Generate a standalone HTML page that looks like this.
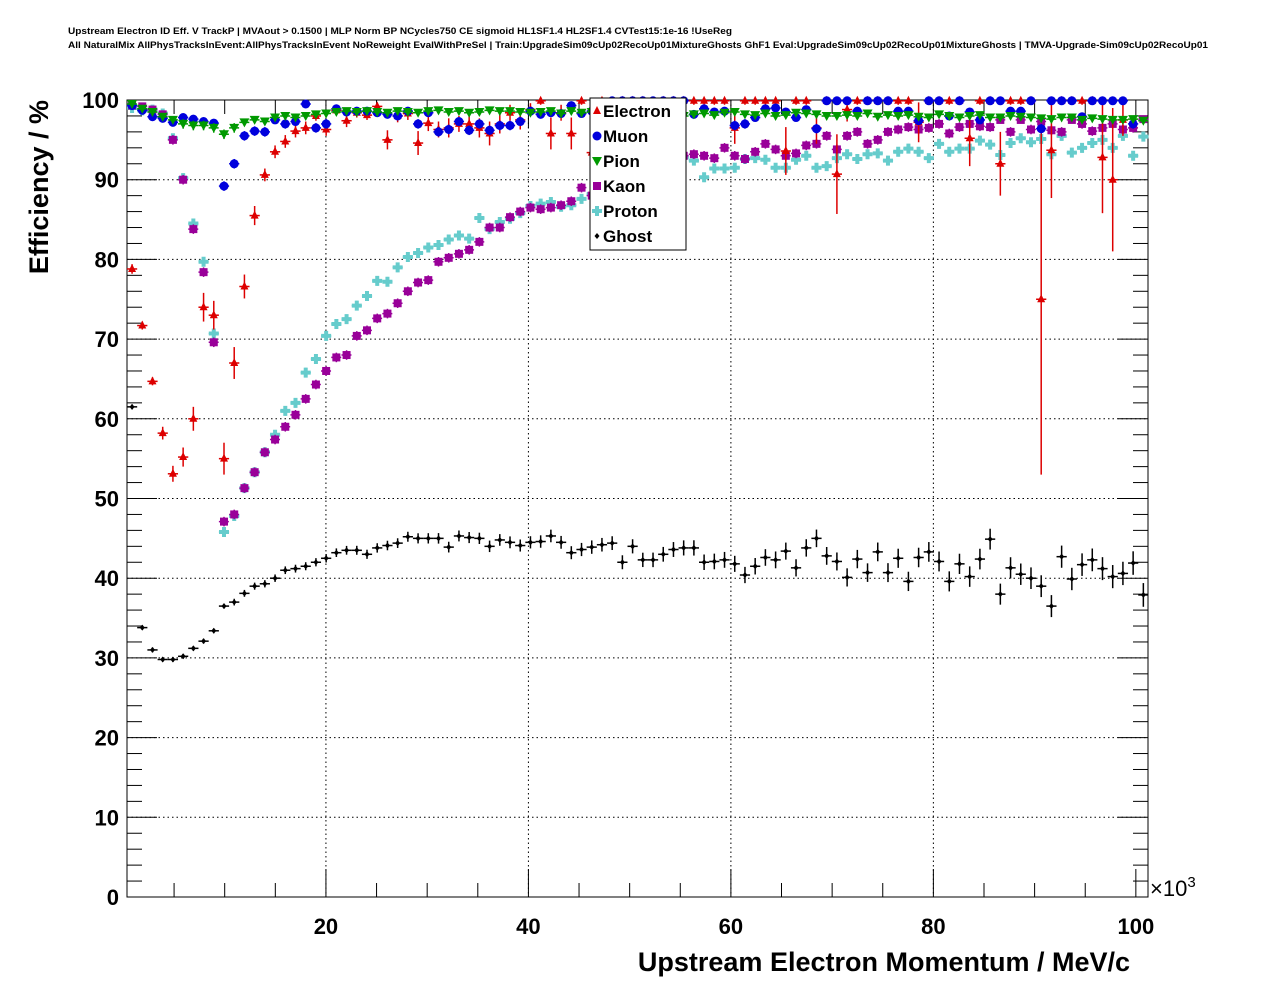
<!DOCTYPE html>
<html><head><meta charset="utf-8"><style>
body{margin:0;background:#fff;}
svg{display:block;font-family:"Liberation Sans",sans-serif;}
</style></head><body>
<svg id="chart" width="1276" height="996" viewBox="0 0 1276 996">
<rect width="1276" height="996" fill="#fff"/>
<text x="68" y="34" font-size="9.6" font-weight="bold" textLength="664" lengthAdjust="spacingAndGlyphs">Upstream Electron ID Eff. V TrackP | MVAout &gt; 0.1500 | MLP Norm BP NCycles750 CE sigmoid HL1SF1.4 HL2SF1.4 CVTest15:1e-16 !UseReg</text>
<text x="68" y="48" font-size="9.6" font-weight="bold" textLength="1140" lengthAdjust="spacingAndGlyphs">All NaturalMix AllPhysTracksInEvent:AllPhysTracksInEvent NoReweight EvalWithPreSel | Train:UpgradeSim09cUp02RecoUp01MixtureGhosts GhF1 Eval:UpgradeSim09cUp02RecoUp01MixtureGhosts | TMVA-Upgrade-Sim09cUp02RecoUp01</text>
<g id="grid"></g>
<g id="axes"></g>
<g id="marks"></g>
<text x="1130" y="971" font-size="27" font-weight="bold" text-anchor="end">Upstream Electron Momentum / MeV/c</text>
<text transform="translate(48,100) rotate(-90)" font-size="27" font-weight="bold" text-anchor="end">Efficiency / %</text>
<text x="1150" y="896" font-size="22">×10<tspan font-size="15" dy="-9">3</tspan></text>
<g id="legend"></g>
</svg>
<script>
const ghost=[61.5,33.8,31.0,29.8,29.8,30.2,31.2,32.1,33.4,36.5,37.0,38.1,39.0,39.3,40.0,41.0,41.2,41.5,42.0,42.5,43.2,43.5,43.5,43.0,43.8,44.1,44.4,45.2,45.0,45.0,45.0,43.9,45.3,45.1,45.0,44.0,44.8,44.5,44.1,44.5,44.6,45.3,44.5,43.2,43.6,43.9,44.2,44.4,42.0,44.0,42.3,42.3,43.0,43.6,43.8,43.8,42.0,42.1,42.3,41.8,40.4,41.5,42.6,42.3,43.4,41.3,43.8,45.0,42.8,42.1,40.1,42.4,40.7,43.3,40.7,42.5,39.6,42.6,43.3,42.1,39.6,41.8,40.2,42.4,44.9,38.0,41.3,40.5,40.0,39.0,36.5,42.7,39.9,41.7,42.3,41.2,40.2,40.6,41.9,37.9];
const electron=[78.8,71.7,64.7,58.2,53.1,55.2,60.0,74.0,73.0,55.0,67.0,76.6,85.5,90.6,93.5,94.8,96.1,96.5,98.0,96.3,98.7,97.4,98.4,98.1,99.2,95.0,98.0,98.3,94.6,97.1,96.3,96.5,97.0,97.0,96.5,95.8,97.0,98.4,97.5,98.8,99.9,95.8,98.4,95.8,99.9,93.4,99.9,98.5,99.9,99.9,99.9,98.4,99.9,99.9,99.9,99.9,99.9,99.9,99.9,96.5,99.9,99.9,99.9,99.9,93.6,99.9,99.9,96.5,99.9,90.7,98.8,99.9,99.9,99.9,99.9,99.9,99.9,97.2,99.9,99.9,99.9,99.9,95.2,99.9,99.9,92.0,99.9,99.9,99.9,75.0,93.7,99.9,99.9,99.9,99.9,92.8,90.0,97.5];
const electronErr=[0.6,0.5,0.5,0.8,1.0,1.2,1.5,1.8,1.8,2.0,2.0,1.5,1.2,0.8,0.8,0.8,0.8,0.8,0.6,0.8,0.5,0.8,0.6,0.6,0.5,1.2,0.8,0.8,1.5,1.0,1.0,1.2,1.0,1.0,1.2,1.5,1.2,1.0,1.2,0.8,0.5,2.0,1.0,2.0,0.5,3.0,0.5,1.0,0.5,0.5,0.5,1.2,0.5,0.5,0.5,0.5,0.5,0.5,0.5,2.0,0.5,0.5,0.5,0.5,3.0,0.5,0.5,2.0,0.5,5.0,1.5,0.5,0.5,0.5,0.5,0.5,0.5,2.5,0.5,0.5,0.5,0.5,3.5,0.5,0.5,4.0,0.5,0.5,0.5,22,6.0,0.5,0.5,0.5,0.5,7.0,9.0,2.0];
const muon=[99.3,98.7,97.9,97.7,97.2,97.8,97.6,97.3,97.1,89.2,92.0,95.5,96.1,96.0,97.5,97.0,97.3,99.5,96.5,97.0,98.9,98.5,98.6,98.6,98.4,98.2,98.0,98.6,97.0,98.4,96.0,96.3,97.3,96.2,97.0,96.2,96.8,96.8,97.3,98.6,98.2,98.4,98.3,99.3,98.3,98.6,97.4,99.9,99.9,99.9,99.9,99.9,99.9,99.9,99.9,98.2,98.9,98.5,98.6,96.8,97.0,97.8,98.9,99.0,98.5,97.8,98.8,96.4,99.9,99.9,99.9,98.6,99.9,99.9,99.9,98.6,98.6,97.4,99.9,99.9,98.0,99.9,98.5,97.5,99.9,99.9,98.6,98.6,99.9,96.4,99.9,99.9,99.9,97.9,99.9,99.9,99.9,99.9,97.0];
const pion=[99.5,98.9,98.5,97.9,97.5,97.0,96.8,96.8,96.5,95.7,96.5,97.2,97.5,97.3,97.8,98.0,97.8,98.0,98.2,98.3,98.5,98.6,98.5,98.6,98.5,98.4,98.6,98.5,98.4,98.6,98.7,98.5,98.6,98.4,98.5,98.7,98.6,98.6,98.5,98.4,98.5,98.6,98.3,98.6,98.4,98.5,98.2,98.4,98.2,98.5,98.3,98.4,98.1,98.3,98.0,98.2,98.3,98.1,98.4,98.5,98.2,98.1,98.3,98.0,98.1,98.4,98.3,98.2,98.0,98.0,98.1,98.0,98.3,97.9,98.1,98.0,98.1,97.9,97.8,98.2,98.0,97.8,98.0,98.1,97.8,97.8,98.0,97.9,97.8,97.7,97.6,97.8,97.8,97.5,97.7,97.6,97.5,97.5,97.6,97.4];
const kaon=[99.3,99.2,98.8,98.2,95.0,90.0,83.8,78.4,69.6,47.1,48.0,51.3,53.3,55.8,57.4,59.0,60.5,62.5,64.3,66.0,67.7,68.0,70.4,71.1,72.6,73.2,74.5,76.0,77.1,77.4,79.7,80.2,80.7,81.2,82.2,84.0,84.0,85.3,86.0,86.5,86.3,86.5,86.8,87.3,89.0,88.0,88.8,91.0,91.5,91.5,92.0,92.0,92.3,92.5,93.0,93.2,93.0,92.7,94.0,93.0,92.6,93.5,94.5,93.8,93.0,93.3,94.3,94.5,95.5,93.8,95.5,96.0,94.5,95.0,96.0,96.3,96.6,96.3,96.5,97.0,95.8,96.6,97.0,96.7,96.6,97.5,96.0,97.5,96.3,97.3,96.2,96.0,97.5,97.0,96.1,96.5,97.0,96.3,96.5,97.6];
const proton=[99.0,98.7,98.8,98.3,95.2,90.2,84.5,79.7,70.7,45.8,47.8,51.3,53.3,55.8,58.0,61.0,62.0,65.8,67.5,70.4,71.9,72.5,74.2,75.4,77.3,77.2,79.0,80.3,80.8,81.5,81.8,82.5,83.0,82.6,85.2,83.8,84.7,85.1,85.8,86.7,87.0,87.2,86.6,86.8,87.6,88.2,88.8,90.3,91.0,90.6,91.5,92.0,92.4,92.6,92.8,92.4,90.3,91.4,91.4,91.5,92.6,92.7,92.5,91.5,91.5,92.5,93.0,91.5,91.7,92.7,93.2,92.6,93.2,93.3,92.4,93.5,93.9,93.5,92.7,94.5,93.5,93.9,93.9,94.9,94.4,93.1,94.6,95.2,94.7,95.1,93.2,95.5,93.4,94.0,94.6,95.0,94.0,95.5,93.0,95.4];
const xTicks=[20,40,60,80,100];
const yTicks=[0,10,20,30,40,50,60,70,80,90,100];

const NS="http://www.w3.org/2000/svg";
const L=127,R=1148,T=100,B=897,XMIN=0.35,XMAX=101.2,BINW=1.009;
const sx=v=>L+(v-XMIN)/(XMAX-XMIN)*(R-L);
const sy=v=>B-v/100*(B-T);
function mk(tag,attrs,parent){const e=document.createElementNS(NS,tag);for(const k in attrs)e.setAttribute(k,attrs[k]);parent.appendChild(e);return e;}
const grid=document.getElementById('grid'),axes=document.getElementById('axes'),marks=document.getElementById('marks'),leg=document.getElementById('legend');
xTicks.forEach(t=>{if(t<100){const g=mk('line',{x1:sx(t),x2:sx(t),y1:T,y2:B,stroke:'#000','stroke-dasharray':'1.5,3','stroke-width':1},grid);}
 const tx=mk('text',{x:sx(t),y:934,'font-size':22,'font-weight':'bold','text-anchor':'middle'},axes);tx.textContent=t;
 });
yTicks.forEach(t=>{if(t>0&&t<100){const g=mk('line',{x1:L,x2:R,y1:sy(t),y2:sy(t),stroke:'#000','stroke-dasharray':'1.5,3','stroke-width':1},grid);}
 const tx=mk('text',{x:119,y:sy(t)+8,'font-size':22,'font-weight':'bold','text-anchor':'end'},axes);tx.textContent=t;
 });
for(let v=5;v<=100;v+=5){const len=(v%20===0)?28:14;mk('line',{x1:sx(v),x2:sx(v),y1:B,y2:B-len,stroke:'#000'},axes);mk('line',{x1:sx(v),x2:sx(v),y1:T,y2:T+len,stroke:'#000'},axes);}
for(let v=2;v<100;v+=2){const len=(v%10===0)?30:15;mk('line',{x1:L,x2:L+len,y1:sy(v),y2:sy(v),stroke:'#000'},axes);mk('line',{x1:R,x2:R-len,y1:sy(v),y2:sy(v),stroke:'#000'},axes);}
const fr=mk('rect',{x:L,y:T,width:R-L,height:B-T,fill:'none',stroke:'#000','stroke-width':1},axes);


function marker(type,x,y,c,p){
 if(type==='tri')return mk('polygon',{points:`${x},${y-5} ${x-4},${y+3} ${x+4},${y+3}`,fill:c},p);
 if(type==='circ')return mk('circle',{cx:x,cy:y,r:4.5,fill:c},p);
 if(type==='itri')return mk('polygon',{points:`${x-5},${y-4} ${x+5},${y-4} ${x},${y+5}`,fill:c},p);
 if(type==='sq')return mk('rect',{x:x-4,y:y-4,width:8,height:8,fill:c},p);
 if(type==='cross')return mk('path',{d:`M${x-5},${y-2}h3v-3h4v3h3v4h-3v3h-4v-3h-3z`,fill:c},p);
 return mk('polygon',{points:`${x},${y-3} ${x+2.5},${y} ${x},${y+3} ${x-2.5},${y}`,fill:c},p);
}
const series=[
 {name:'electron',vals:electron,err:electronErr,c:'#dd0000',m:'tri'},
 {name:'muon',vals:muon,err:null,c:'#0000dd',m:'circ'},
 {name:'pion',vals:pion,err:null,c:'#009900',m:'itri',dash:true},
 {name:'kaon',vals:kaon,err:null,c:'#990099',m:'sq',dash:true},
 {name:'proton',vals:proton,err:null,c:'#66cccc',m:'cross'},
 {name:'ghost',vals:ghost,err:null,c:'#000000',m:'dia'}
];
const order=['ghost','proton','kaon','electron','muon','pion'];
order.forEach(n=>{const s=series.find(q=>q.name===n);
 const g=mk('g',{},marks);
 s.vals.forEach((v,i)=>{const xc=0.85+i*BINW;const x=sx(xc),y=sy(v);
  const e=s.err?s.err[i]:(s.name==='ghost'?(i<10?0.3:0.3+i*0.012):(v>97?0.4:0.6));
  const x1=sx(xc-BINW/2),x2=sx(xc+BINW/2);
  mk('line',{x1:x1,x2:x2,y1:y,y2:y,stroke:s.c,'stroke-width':1.5,'stroke-dasharray':s.dash?'4,2':'none'},g);
  mk('line',{x1:x,x2:x,y1:sy(Math.min(100,v+e)),y2:sy(v-e),stroke:s.c,'stroke-width':1.5},g);
  const m=marker(s.m,x,y,s.c,g);
  
  
 });});
const lb=mk('rect',{x:590,y:98,width:96,height:152,fill:'#fff',stroke:'#000','stroke-width':1},leg);

const labels=['Electron','Muon','Pion','Kaon','Proton','Ghost'];
series.forEach((s,i)=>{const y=111+i*25;
 const g=mk('g',{},leg);
 marker(s.m,597,y,s.c,g);
 const t=mk('text',{x:603,y:y+6,'font-size':17,'font-weight':'bold'},g);t.textContent=labels[i];});
</script>
</body></html>
